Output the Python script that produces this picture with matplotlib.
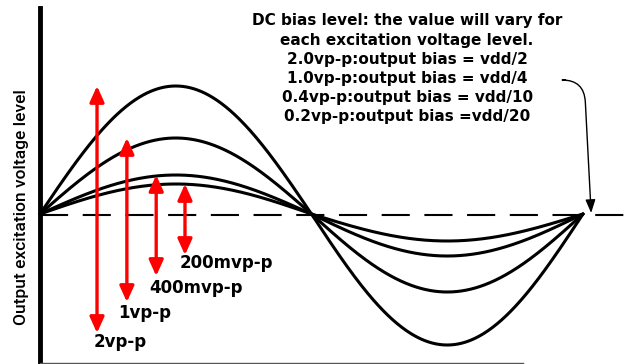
import numpy as np
import matplotlib
matplotlib.use("Agg")
import matplotlib.pyplot as plt

# Schematic excitation waveforms (levels in drawing units, 0 = DC bias)
excitation_labels = ["2vp-p", "1vp-p", "400mvp-p", "200mvp-p"]
pos_peak = [128, 76, 39, 30]      # first half-cycle peak height
neg_peak = [131, 78, 42, 27]      # second half-cycle trough depth
arrow_phase = [0.105, 0.160, 0.214, 0.267]
arrow_bottom = [-119, -88, -62, -41]
label_pos = [(0.098, -128), (0.144, -99), (0.201, -74), (0.258, -49)]

note_lines = [
    "DC bias level: the value will vary for",
    "each excitation voltage level.",
    "2.0vp-p:output bias = vdd/2",
    "1.0vp-p:output bias = vdd/4",
    "0.4vp-p:output bias = vdd/10",
    "0.2vp-p:output bias =vdd/20",
]
ylabel = "Output excitation voltage level"

W, H = 628, 364
fig = plt.figure(figsize=(W / 100, H / 100), dpi=100)
ax = fig.add_axes([0, 0, 1, 1])
x0, span, y0 = 40, 543, 214
ax.set_xlim(-x0 / span, (W - x0) / span)
ax.set_ylim(y0 - H, y0)
ax.axis("off")

# dashed DC bias line
ax.plot([0, (W - x0) / span], [-1, -1], color="black", lw=1.5,
        dashes=(13.5, 7), zorder=1)

# waveforms: positive half then negative half
t = np.linspace(0, 1, 600)
for a, b in zip(pos_peak, neg_peak):
    amp = np.where(t <= 0.5, a, b)
    ax.plot(t, amp * np.sin(2 * np.pi * t), color="black", lw=2.2,
            solid_capstyle="round", zorder=3)

# vertical axis line and bottom base line
ax.plot([0, 0], [y0 - 8, y0 - H], color="black", lw=3.5, zorder=4)
ax.plot([0, 0.889], [-148.5, -148.5], color="#555555", lw=1.0, zorder=4)

# red double-headed excitation arrows
for xp, top, bot in zip(arrow_phase, pos_peak, arrow_bottom):
    ax.annotate("", xy=(xp, top), xytext=(xp, bot),
                arrowprops=dict(arrowstyle="<|-|>,head_length=0.95,head_width=0.43",
                                color="#ff0000", lw=2.4, shrinkA=0, shrinkB=0),
                zorder=5)

for (lx, ly), lab in zip(label_pos, excitation_labels):
    ax.text(lx, ly, lab, ha="left", va="center", fontsize=12,
            fontweight="bold", family="DejaVu Sans", color="black")

# DC bias note
for i, line in enumerate(note_lines):
    ax.text(0.676, y0 - (21 + 19.2 * i), line, ha="center", va="center",
            fontsize=11, fontweight="bold", family="DejaVu Sans")

ax.annotate("", xy=(1.015, 1), xytext=(0.968, 134),
            arrowprops=dict(arrowstyle="-|>,head_length=0.8,head_width=0.3",
                            color="black", lw=1.0, shrinkA=0, shrinkB=0,
                            connectionstyle="angle,angleA=0,angleB=93,rad=22"))

fig.text(22 / W, 1 - 207 / H, ylabel, rotation=90, ha="center", va="center",
         fontsize=12.5, fontweight="medium",
         family=["Liberation Sans Narrow", "DejaVu Sans Condensed", "Roboto"])

fig.savefig("out.png", dpi=100)
